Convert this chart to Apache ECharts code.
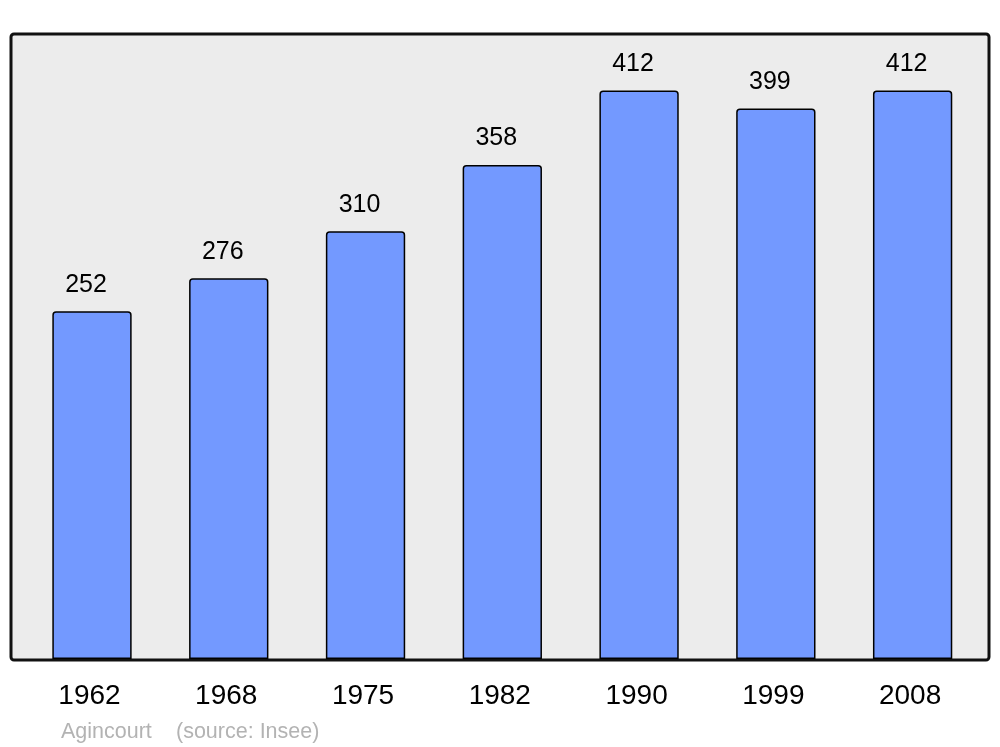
<!DOCTYPE html>
<html>
<head>
<meta charset="utf-8">
<script src="https://cdn.jsdelivr.net/npm/echarts@6/dist/echarts.min.js"></script>
<style>
  html, body { margin: 0; padding: 0; background: #fff; }
  #chart { width: 1000px; height: 747px; }
</style>
</head>
<body>
<div id="chart"></div>
<script>
  // population per census year
  const years = ['1962', '1968', '1975', '1982', '1990', '1999', '2008'];
  const population = [252, 276, 310, 358, 412, 399, 412];
  const commune = 'Agincourt';
  const source = '(source: Insee)';

  const chart = echarts.init(document.getElementById('chart'));

  const footStyle = { color: '#b3b3b3', fontSize: 21.5, fontWeight: 'normal' };

  const option = {
    animation: false,
    textStyle: { fontFamily: 'Liberation Sans, Arial, sans-serif' },
    title: [
      { text: commune, left: 56, top: 716, textStyle: footStyle },
      { text: source, left: 171, top: 716, textStyle: footStyle }
    ],
    graphic: [{
      type: 'rect',
      z: -1,
      shape: { x: 11, y: 34, width: 978, height: 626, r: 3 },
      style: { fill: '#ececec', stroke: '#111', lineWidth: 3 }
    }],
    grid: { left: 23.6, right: 19, top: 34, bottom: 88 },
    xAxis: {
      type: 'category',
      data: years,
      axisLine: { show: false },
      axisTick: { show: false },
      axisLabel: { color: '#000', fontSize: 28, margin: 23, padding: [0, 5, 0, 0] }
    },
    yAxis: {
      type: 'value',
      min: 0,
      max: 453,
      show: false,
      splitLine: { show: false }
    },
    series: [{
      type: 'bar',
      data: population,
      barWidth: '58%',
      itemStyle: {
        color: '#7399ff',
        borderColor: '#000',
        borderWidth: 1.5,
        borderRadius: [3, 3, 0, 0]
      },
      label: {
        show: true,
        position: 'top',
        distance: 14,
        offset: [-6, 0],
        color: '#000',
        fontSize: 25
      }
    }]
  };

  chart.setOption(option);
</script>
</body>
</html>
